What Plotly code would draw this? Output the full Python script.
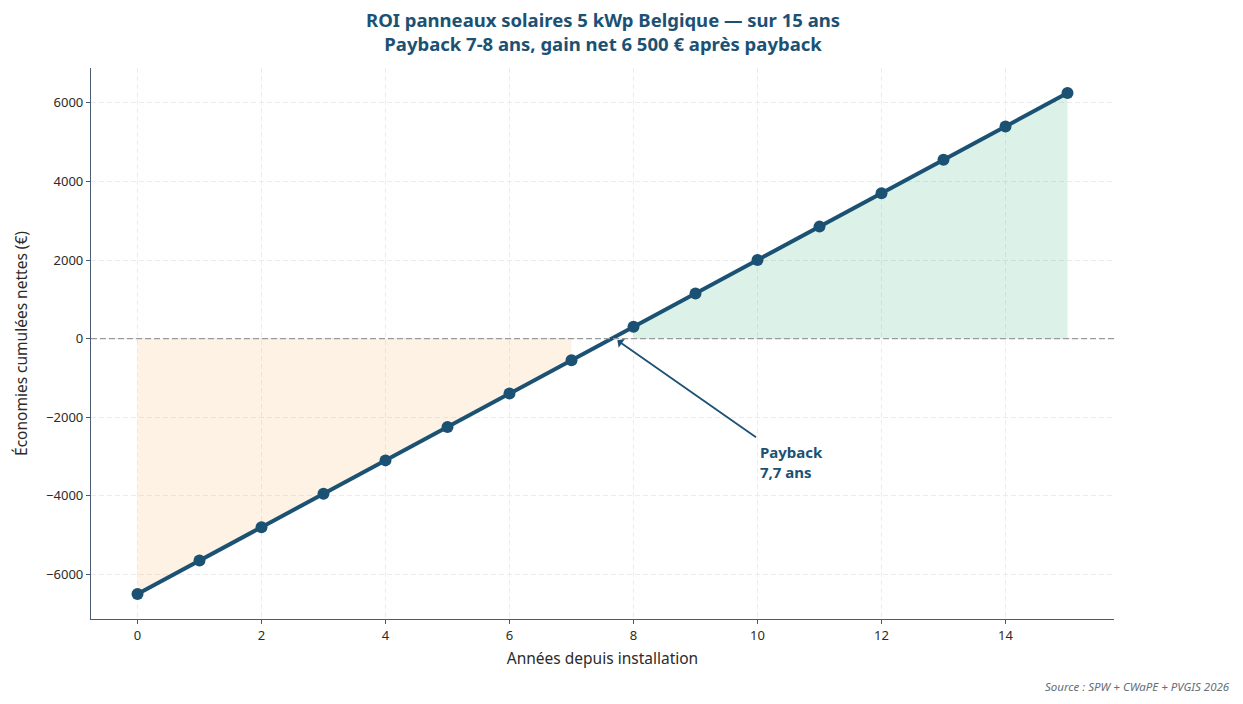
import plotly.graph_objects as go

years = list(range(16))
savings = [-6500, -5650, -4800, -3950, -3100, -2250, -1400, -550,
           300, 1150, 2000, 2850, 3700, 4550, 5400, 6250]
payback_year = 7.7
x_ticks = [0, 2, 4, 6, 8, 10, 12, 14]
y_ticks = [-6000, -4000, -2000, 0, 2000, 4000, 6000]

DARK = "#1b5173"
FONT = "Noto Sans"

neg_x = [x for x, y in zip(years, savings) if y < 0]
neg_y = [y for y in savings if y < 0]
pos_x = [x for x, y in zip(years, savings) if y > 0]
pos_y = [y for y in savings if y > 0]

fig = go.Figure()
fig.add_trace(go.Scatter(
    x=neg_x + neg_x[::-1], y=neg_y + [0] * len(neg_x),
    fill="toself", fillcolor="rgba(245,176,90,0.16)", line=dict(width=0),
    mode="lines", hoverinfo="skip", showlegend=False))
fig.add_trace(go.Scatter(
    x=pos_x + pos_x[::-1], y=pos_y + [0] * len(pos_x),
    fill="toself", fillcolor="rgba(46,174,110,0.17)", line=dict(width=0),
    mode="lines", hoverinfo="skip", showlegend=False))
fig.add_hline(y=0, line=dict(color="#9a9a9a", width=1.3, dash="6px,3px"))
fig.add_trace(go.Scatter(
    x=years, y=savings, mode="lines+markers",
    line=dict(color=DARK, width=4),
    marker=dict(color=DARK, size=12), showlegend=False))

fig.add_annotation(
    x=payback_year, y=0, ax=10, ay=-2540, axref="x", ayref="y",
    xref="x", yref="y", text="", showarrow=True,
    arrowhead=1, arrowsize=1, arrowwidth=1.8, arrowcolor=DARK, standoff=3)
fig.add_annotation(
    x=10, y=-3150, xref="x", yref="y", xanchor="left", yanchor="middle",
    text="<b>Payback<br>7,7 ans</b>", showarrow=False, align="left",
    font=dict(family=FONT, size=15, color=DARK))

fig.add_annotation(
    x=0.5, y=1.066, xref="paper", yref="paper", xanchor="center", yanchor="middle",
    text="<b>ROI panneaux solaires 5 kWp Belgique — sur 15 ans<br>Payback 7-8 ans, gain net 6 500 € après payback</b>",
    showarrow=False, align="center",
    font=dict(family=FONT, size=18.5, color=DARK))

fig.add_annotation(
    x=1.1153, y=-0.1234, xref="paper", yref="paper", xanchor="right", yanchor="middle",
    text="<i>Source : SPW + CWaPE + PVGIS 2026</i>", showarrow=False,
    font=dict(family=FONT, size=11.5, color="#666e78"))

fig.update_layout(
    width=1243, height=704,
    paper_bgcolor="white", plot_bgcolor="white",
    margin=dict(l=83, r=137, t=60, b=93, autoexpand=False),
    font=dict(family=FONT, size=13, color="#2b2b2b"),
    xaxis=dict(
        range=[-0.75, 15.75], tickvals=x_ticks, showgrid=True,
        gridcolor="#ececec", griddash="5px,3px", gridwidth=1,
        showline=True, linecolor="#4a5a70", linewidth=1.2,
        ticks="outside", ticklen=4, tickcolor="#4a5a70", zeroline=False,
        automargin=False,
        title=dict(text="Années depuis installation", font=dict(size=15.5), standoff=10),
        tickfont=dict(size=13)),
    yaxis=dict(
        range=[-7137.5, 6887.5], tickvals=y_ticks, showgrid=True,
        gridcolor="#ececec", griddash="5px,3px", gridwidth=1,
        showline=True, linecolor="#4a5a70", linewidth=1.2,
        ticks="outside", ticklen=4, tickcolor="#4a5a70", zeroline=False,
        automargin=False,
        title=dict(text="Économies cumulées nettes (€)", font=dict(size=15.5), standoff=14),
        tickfont=dict(size=13)),
)

fig.write_html("out.html")
